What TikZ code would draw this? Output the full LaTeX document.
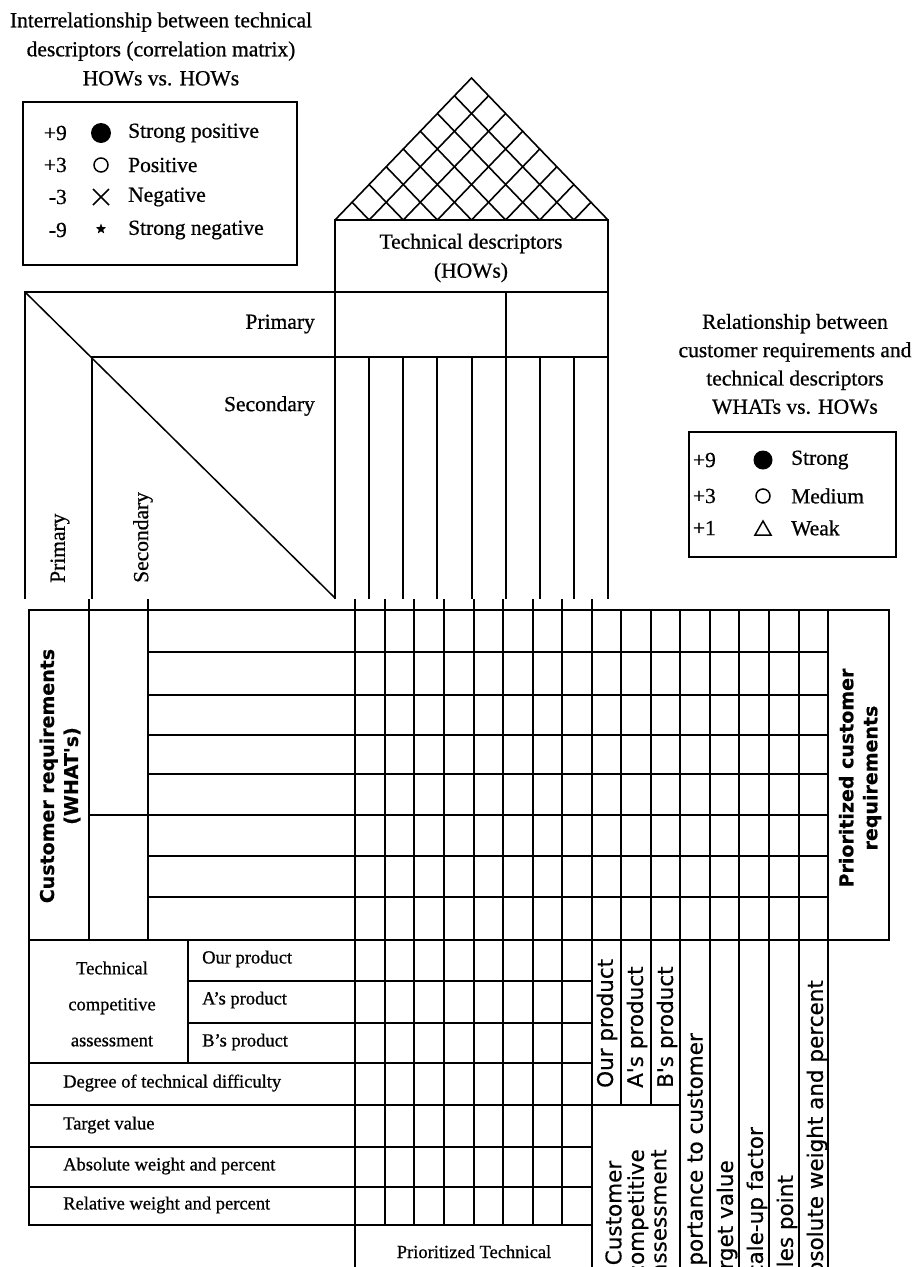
\documentclass[tikz,border=0pt]{standalone}
\usepackage{fontspec}
\setmainfont{Liberation Serif}[FakeBold=0.7]
\newfontfamily\labelsans{DejaVu Sans}[FakeBold=0.5]
\usetikzlibrary{calc,shapes.geometric}

\begin{document}
\begin{tikzpicture}[x=1pt,y=-1pt,
  rule/.style={line width=1.9pt, line cap=rect},
  lattice/.style={line width=1.6pt, line cap=round},
  big/.style={font=\fontsize{21.5}{29}\selectfont, inner sep=0pt},
  lbl/.style={font=\fontsize{18.5}{24}\selectfont, inner sep=0pt},
  vlbl/.style={rotate=90, font=\labelsans\fontsize{21.5}{22.5}\selectfont, inner sep=0pt},
  vhead/.style={rotate=90, align=center, font=\labelsans\bfseries\fontsize{19}{24}\selectfont, inner sep=0pt},
  legendbox/.style={line width=1.9pt}]

% page
\useasboundingbox (0,0) rectangle (912,1267);
\fill[white] (0,0) rectangle (912,1267);
\clip (0,0) rectangle (912,1267);

% ---------- correlation legend (top left) ----------
\node[big, align=center] (corrtitle) at (161,49)
  {Interrelationship between technical\\descriptors (correlation matrix)\\HOWs vs. HOWs};
\draw[legendbox] (23,102) rectangle (297,265);
\node[big, anchor=east] (c9p) at (67,133) {+9};
\node[big, anchor=east] (c3p) at (67,165) {+3};
\node[big, anchor=east] (c3n) at (67,197) {-3};
\node[big, anchor=east] (c9n) at (67,230) {-9};
\fill (101,133) circle (10);
\draw[line width=1.5pt] (101,165) circle (7);
\draw[line width=1.5pt] (93,189) -- (109,205) (93,205) -- (109,189);
\node[star, star points=5, star point ratio=2.4, fill=black, minimum size=11pt, inner sep=0pt] (starsym) at (101,229) {};
\node[big, anchor=west] (sp) at (128,133) {Strong positive};
\node[big, anchor=west] (po) at (128,165) {Positive};
\node[big, anchor=west] (ne) at (128,197) {Negative};
\node[big, anchor=west] (sn) at (128,230) {Strong negative};

% ---------- roof: correlation matrix ----------
\coordinate (rA) at (335,220);
\coordinate (rB) at (608,220);
\coordinate (rC) at (471.5,78);
\draw[lattice] (rA) -- (rC) -- (rB);
\foreach \t in {1,...,7} {
  \draw[lattice] ($(rA)!\t/8!(rB)$) -- ($(rA)!\t/8!(rC)$);
  \draw[lattice] ($(rA)!\t/8!(rB)$) -- ($(rB)!1-\t/8!(rC)$);
}

% ---------- technical descriptors header ----------
\draw[rule] (335,220) rectangle (608,292);
\node[big, align=center] (hows) at (471,258) {Technical descriptors\\(HOWs)};

% ---------- primary / secondary hierarchy ----------
\draw[rule] (25,292) -- (608,292);
\draw[rule] (92,357) -- (608,357);
\draw[rule] (25,292) -- (25,598);
\draw[rule] (92,357) -- (92,598);
\draw[rule] (335,292) -- (335,598);
\draw[rule] (608,292) -- (608,598);
\draw[rule] (506,292) -- (506,598);
\foreach \x in {369,403,437,472,540,574} \draw[rule] (\x,357) -- (\x,598);
\draw[line width=1.5pt] (25,292) -- (335,598);
\node[big, anchor=east] (prim) at (315,324) {Primary};
\node[big, anchor=east] (sec) at (315,406) {Secondary};
\node[big, rotate=90, anchor=west] (vprim) at (60,583) {Primary};
\node[big, rotate=90, anchor=west] (vsec) at (143,583) {Secondary};

% ---------- relationship legend (right) ----------
\node[big, align=center, font=\fontsize{21.5}{28.3}\selectfont] (reltitle) at (795,364)
  {Relationship between\\customer requirements and\\technical descriptors\\WHATs vs. HOWs};
\draw[legendbox] (689,432) rectangle (896,557);
\node[big, anchor=east] (r9) at (716,460) {+9};
\node[big, anchor=east] (r3) at (716,496) {+3};
\node[big, anchor=east] (r1) at (716,528) {+1};
\fill (763,460) circle (9.5);
\draw[line width=1.5pt] (763,496) circle (7);
\draw[line width=1.5pt, line join=miter] (755,535) -- (771,535) -- (763,521) -- cycle;
\node[big, anchor=west] (rs) at (791,460) {Strong};
\node[big, anchor=west] (rm) at (791,496) {Medium};
\node[big, anchor=west] (rw) at (791,528) {Weak};

% ---------- relationship matrix ----------
\draw[rule] (29,610) -- (889,610);
\draw[rule] (29,940) -- (889,940);
\draw[rule] (889,610) -- (889,940);
\draw[rule] (29,610) -- (29,1225);
\foreach \x in {89,148} \draw[rule] (\x,600) -- (\x,940);
\foreach \y in {652,695,735,774,856,897} \draw[rule] (148,\y) -- (828,\y);
\draw[rule] (89,815) -- (828,815);
\draw[rule] (355,600) -- (355,1267);
\foreach \x in {385,414,444,474,503,533,562} \draw[rule] (\x,600) -- (\x,1225);
\draw[rule] (592,600) -- (592,1267);
\foreach \x in {621,651} \draw[rule] (\x,610) -- (\x,1105);
\foreach \x in {680,710,739,769,799,828} \draw[rule] (\x,610) -- (\x,1267);

\node[vhead] (whats) at (60,776) {Customer requirements\\(WHAT's)};
\node[vhead] (prio) at (860,778) {Prioritized customer\\requirements};

% ---------- bottom rows ----------
\draw[rule] (188,940) -- (188,1063);
\foreach \y in {981,1023} \draw[rule] (188,\y) -- (592,\y);
\foreach \y in {1063,1147,1187,1225} \draw[rule] (29,\y) -- (592,\y);
\draw[rule] (29,1105) -- (680,1105);

\node[lbl, align=center, font=\fontsize{18.5}{36}\selectfont] (tca) at (112,1004)
  {Technical\\competitive\\assessment};
\node[lbl, anchor=west] (our) at (202,959) {Our product};
\node[lbl, anchor=west] (aprod) at (202,1000) {A's product};
\node[lbl, anchor=west] (bprod) at (202,1042) {B's product};
\node[lbl, anchor=west] (deg) at (63,1083) {Degree of technical difficulty};
\node[lbl, anchor=west] (tgt) at (63,1125) {Target value};
\node[lbl, anchor=west] (abs) at (63,1166) {Absolute weight and percent};
\node[lbl, anchor=west] (rel) at (63,1205) {Relative weight and percent};
\node[lbl, anchor=base] (ptd) at (474,1258) {Prioritized Technical};

% ---------- customer competitive assessment and planning columns ----------
\node[vlbl, anchor=west] (cour) at (607,1088) {Our product};
\node[vlbl, anchor=west] (ca) at (637,1088) {A's product};
\node[vlbl, anchor=west] (cb) at (667,1088) {B's product};
\node[vlbl, align=center] (cca) at (636,1213) {Customer\\competitive\\assessment};
\node[vlbl, anchor=east] (imp) at (697,1033) {Importance to customer};
\node[vlbl, anchor=east] (tv) at (727,1160) {Target value};
\node[vlbl, anchor=east] (suf) at (757,1127) {Scale-up factor};
\node[vlbl, anchor=east] (spt) at (787,1175) {Sales point};
\node[vlbl, anchor=east] (awp) at (817,980) {Absolute weight and percent};

\end{tikzpicture}
\end{document}
